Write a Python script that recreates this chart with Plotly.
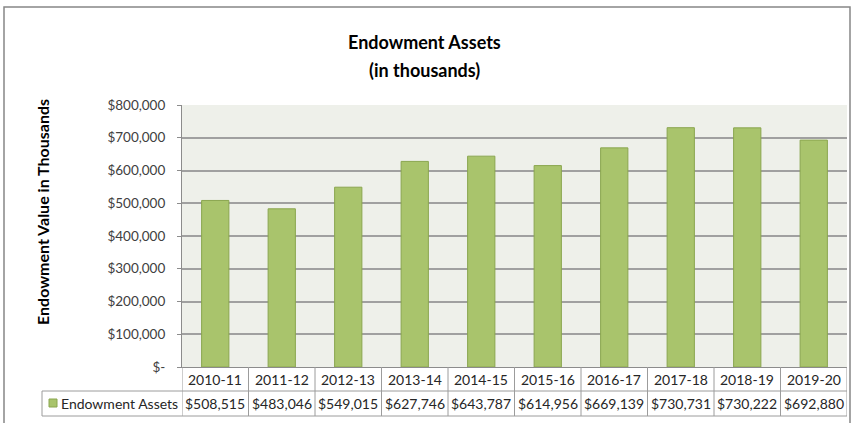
import plotly.graph_objects as go

categories = ["2010-11", "2011-12", "2012-13", "2013-14", "2014-15",
              "2015-16", "2016-17", "2017-18", "2018-19", "2019-20"]
values = [508515, 483046, 549015, 627746, 643787, 614956, 669139, 730731, 730222, 692880]
series_name = "Endowment Assets"
tick_vals = [0, 100000, 200000, 300000, 400000, 500000, 600000, 700000, 800000]
tick_text = ["$-", "$100,000", "$200,000", "$300,000", "$400,000",
             "$500,000", "$600,000", "$700,000", "$800,000"]
title_line1 = "Endowment Assets"
title_line2 = "(in thousands)"
y_title = "Endowment Value in Thousands"

W, H = 861, 423
L, R, T, B = 182, 14, 105, 56
PW, PH = W - L - R, H - T - B

def px_x(px):
    return (px - L) / PW

def px_y(py):
    return (H - B - py) / PH

FONT = "Lato"
TXT = "#262626"
BAR = "#A9C46C"
BAR_LINE = "#8AA64F"
GRID = "#A0A0A0"
TLINE = "#9C9C9C"

fig = go.Figure()
fig.add_trace(go.Bar(
    x=list(range(len(categories))), y=values, name=series_name,
    marker=dict(color=BAR, line=dict(color=BAR_LINE, width=1)),
    showlegend=False, hoverinfo="y",
))

row_mid = 391
row_bot = 416
shapes = []
annotations = []
for i in range(len(categories) + 1):
    shapes.append(dict(type="line", xref="x", yref="paper",
                       x0=i - 0.5, x1=i - 0.5, y0=0, y1=px_y(row_bot),
                       line=dict(color=TLINE, width=1)))
for py in (row_mid, row_bot):
    shapes.append(dict(type="line", xref="paper", yref="paper",
                       x0=px_x(42), x1=1, y0=px_y(py), y1=px_y(py),
                       line=dict(color=TLINE, width=1)))
shapes.append(dict(type="line", xref="paper", yref="paper",
                   x0=px_x(42), x1=px_x(42), y0=px_y(row_mid), y1=px_y(row_bot),
                   line=dict(color=TLINE, width=1)))
shapes.append(dict(type="rect", xref="paper", yref="paper",
                   x0=px_x(49), x1=px_x(57), y0=px_y(399), y1=px_y(407),
                   fillcolor=BAR, line=dict(color=BAR_LINE, width=1)))
shapes.append(dict(type="rect", xref="paper", yref="paper",
                   x0=px_x(4), x1=px_x(850), y0=px_y(7), y1=px_y(450),
                   line=dict(color="#878787", width=1.5)))

cell_font = dict(size=14, color=TXT, family=FONT)
for i, (c, v) in enumerate(zip(categories, values)):
    annotations.append(dict(x=i, xref="x", y=px_y((368 + row_mid) / 2), yref="paper",
                            xanchor="center", yanchor="middle",
                            text=c, showarrow=False, font=cell_font))
    annotations.append(dict(x=i, xref="x", y=px_y((row_mid + row_bot) / 2), yref="paper",
                            xanchor="center", yanchor="middle",
                            text="${:,}".format(v), showarrow=False, font=cell_font))
annotations.append(dict(x=px_x(59), xref="paper", y=px_y((row_mid + row_bot) / 2), yref="paper",
                        text=series_name, showarrow=False, xanchor="left", yanchor="middle",
                        font=cell_font))
annotations.append(dict(x=px_x(42), xref="paper", y=px_y(212), yref="paper",
                        xanchor="center", yanchor="middle",
                        text="<b>" + y_title + "</b>", showarrow=False, textangle=-90,
                        font=dict(size=16, color="#000000", family=FONT)))
for txt, py in ((title_line1, 42), (title_line2, 70)):
    annotations.append(dict(x=px_x(424), xref="paper", y=px_y(py), yref="paper",
                            xanchor="center", yanchor="middle",
                            text="<b>" + txt + "</b>", showarrow=False,
                            font=dict(size=18, color="#000000", family=FONT)))

fig.update_layout(
    width=W, height=H,
    margin=dict(l=L, r=R, t=T, b=B),
    paper_bgcolor="white",
    plot_bgcolor="#EEF0EA",
    bargap=0.59,
    xaxis=dict(range=[-0.5, len(categories) - 0.5], showticklabels=False,
               showgrid=False, zeroline=False, showline=True, linecolor="#8C8C8C",
               linewidth=1, fixedrange=True),
    yaxis=dict(range=[0, 800000], tickvals=tick_vals, ticktext=tick_text,
               showgrid=True, gridcolor=GRID, gridwidth=1.5, zeroline=False,
               showline=True, linecolor="#8C8C8C", linewidth=1,
               ticks="outside", ticklen=4, tickcolor="#8C8C8C",
               ticklabelstandoff=9,
               tickfont=dict(size=13.5, color="#404040", family=FONT), fixedrange=True),
    shapes=shapes,
    annotations=annotations,
    font=dict(family=FONT),
)

fig.write_html("out.html", config={"displayModeBar": False},
               post_script="document.body.style.margin='0';document.body.style.overflow='hidden';")
